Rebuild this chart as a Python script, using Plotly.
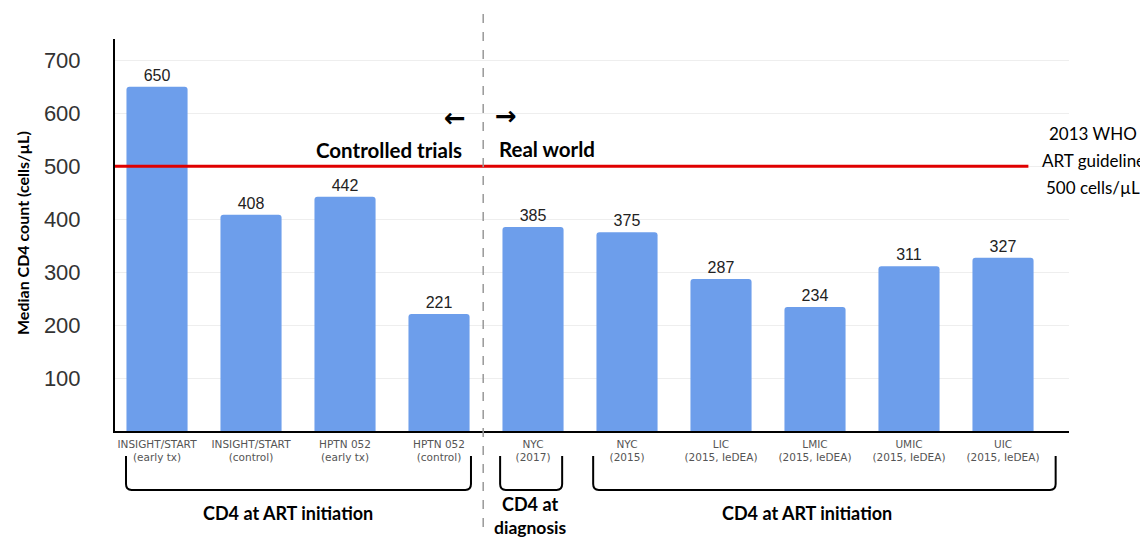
import plotly.graph_objects as go

categories = ["INSIGHT/START<br>(early tx)", "INSIGHT/START<br>(control)", "HPTN 052<br>(early tx)",
              "HPTN 052<br>(control)", "NYC<br>(2017)", "NYC<br>(2015)", "LIC<br>(2015, IeDEA)",
              "LMIC<br>(2015, IeDEA)", "UMIC<br>(2015, IeDEA)", "UIC<br>(2015, IeDEA)"]
values = [650, 408, 442, 221, 385, 375, 287, 234, 311, 327]
ytick_vals = [100, 200, 300, 400, 500, 600, 700]
guideline = 500

CAL = "Lato, 'Open Sans', sans-serif"
ARIAL = "'Liberation Sans', Arial, sans-serif"

# page has an 8px body margin; plot area in page pixels: x 115..1069, y 39..431
OFF = 8
W, H = 1148 - OFF, 539 - OFF
L, T = 115 - OFF, 39 - OFF
PW, PH = 954, 392
R, B = W - L - PW, H - T - PH

def py(p):  # page pixel y -> paper
    return (431 - p) / PH

def px(p):  # page pixel x -> paper
    return (p - 115) / PW

xs = list(range(len(categories)))
fig = go.Figure()
fig.add_trace(go.Bar(
    x=xs, y=values, text=[str(v) for v in values], textposition="outside",
    textfont=dict(family=ARIAL, size=16, color="#222222"),
    marker=dict(color="#6d9eeb", cornerradius=3, line=dict(width=0)),
    width=0.65, cliponaxis=False, hoverinfo="skip"))

fig.update_layout(
    width=W, height=H, autosize=False,
    margin=dict(l=L, r=R, t=T, b=B),
    plot_bgcolor="white", paper_bgcolor="white", showlegend=False,
    xaxis=dict(range=[-0.447, 9.702], tickmode="array", tickvals=xs, ticktext=categories,
               tickfont=dict(family="'DejaVu Sans', sans-serif", size=10.5, color="#555555"),
               showline=True, linecolor="black", linewidth=2, showgrid=False, zeroline=False,
               ticks="outside", ticklen=2, tickcolor="rgba(0,0,0,0)"),
    yaxis=dict(range=[0, 740], tickmode="array", tickvals=ytick_vals,
               tickfont=dict(family=ARIAL, size=22, color="#333333"),
               showline=True, linecolor="black", linewidth=2, showgrid=True,
               gridcolor="#eeeeee", gridwidth=1, zeroline=False,
               ticks="outside", ticklen=28, tickcolor="rgba(0,0,0,0)"),
)

# red guideline
fig.add_shape(type="line", xref="x", yref="y", x0=-0.447, x1=9.27, y0=guideline, y1=guideline,
              line=dict(color="#e00000", width=3))
# dashed divider
fig.add_shape(type="line", xref="x", yref="paper", x0=3.47, x1=3.47, y0=py(14), y1=py(536),
              line=dict(color="#999999", width=1.5, dash="dash"))

def bracket(x0, x1, ytop=py(456), ybot=py(490), r=0.06, rv=0.015):
    path = (f"M {x0},{ytop} L {x0},{ybot + rv} Q {x0},{ybot} {x0 + r},{ybot} "
            f"L {x1 - r},{ybot} Q {x1},{ybot} {x1},{ybot + rv} L {x1},{ytop}")
    fig.add_shape(type="path", xref="x", yref="paper", path=path,
                  line=dict(color="black", width=2))

bracket(-0.33, 3.34)
bracket(3.65, 4.31)
bracket(4.64, 9.56)

def ann(text, x, y, size, bold=False, xanchor="center", xref="x", family=CAL):
    fig.add_annotation(text=f"<b>{text}</b>" if bold else text, x=x, y=y, xref=xref, yref="paper",
                       showarrow=False, xanchor=xanchor, yanchor="middle",
                       font=dict(family=family, size=size, color="black"))

ann("CD4 at ART initiation", px(288), py(513), 18, bold=True, xref="paper")
ann("CD4 at", px(530), py(504), 18, bold=True, xref="paper")
ann("diagnosis", px(530), py(527), 17.5, bold=True, xref="paper")
ann("CD4 at ART initiation", px(807), py(513), 18, bold=True, xref="paper")

ann("Controlled trials", px(464), py(150), 20.5, bold=True, xanchor="right", xref="paper")
ann("Real world", px(497), py(149), 20.5, bold=True, xanchor="left", xref="paper")
ann("<b>←</b>", px(455), py(118), 26, family="'DejaVu Sans', sans-serif", xref="paper")
ann("<b>→</b>", px(506), py(116), 26, family="'DejaVu Sans', sans-serif", xref="paper")

ann("2013 WHO", px(1093), py(133), 17, xref="paper")
ann("ART guideline", px(1093), py(160), 17, xref="paper")
ann("500 cells/µL", px(1093), py(187), 17, xref="paper")

fig.add_annotation(text="<b>Median CD4 count (cells/µL)</b>", x=px(22), y=py(233),
                   xref="paper", yref="paper", showarrow=False, textangle=-90,
                   xanchor="center", yanchor="middle",
                   font=dict(family=CAL, size=16, color="black"))

fig.write_html("out.html")
